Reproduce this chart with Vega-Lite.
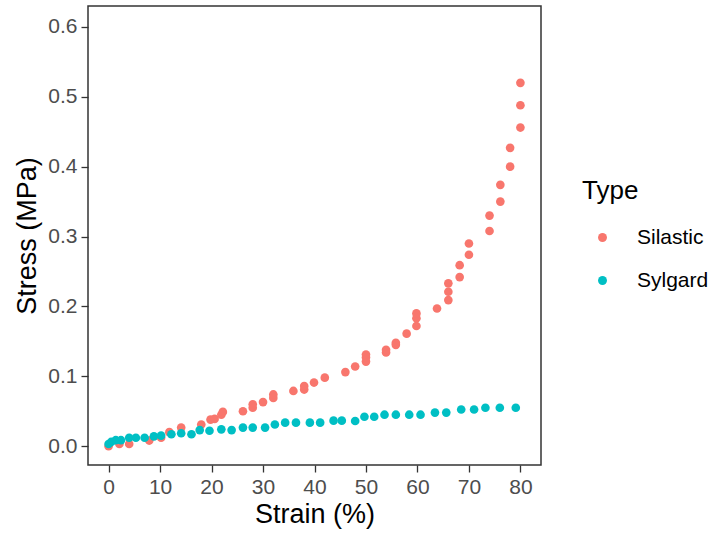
{
  "$schema": "https://vega.github.io/schema/vega-lite/v6.json",
  "width": 453,
  "height": 459,
  "autosize": {"type": "none"},
  "padding": {"left": 88, "top": 6, "right": 175, "bottom": 74},
  "background": "white",
  "config": {
    "font": "Liberation Sans",
    "view": {"stroke": "#333333", "strokeWidth": 1.5},
    "axis": {"grid": false, "domain": false, "tickColor": "#333333", "tickWidth": 1.3, "tickSize": 7,
      "labelFont": "Liberation Sans", "labelFontSize": 21, "labelColor": "#4D4D4D", "labelPadding": 4,
      "titleFont": "Liberation Sans", "titleFontSize": 27, "titleFontWeight": "normal", "titleColor": "#000000"}
  },
  "data": {"values": [
    {"Strain": 0, "Stress": 0.0, "Type": "Silastic"},
    {"Strain": 2.1, "Stress": 0.003, "Type": "Silastic"},
    {"Strain": 4.0, "Stress": 0.003, "Type": "Silastic"},
    {"Strain": 7.9, "Stress": 0.008, "Type": "Silastic"},
    {"Strain": 10.2, "Stress": 0.012, "Type": "Silastic"},
    {"Strain": 11.8, "Stress": 0.02, "Type": "Silastic"},
    {"Strain": 14.1, "Stress": 0.0265, "Type": "Silastic"},
    {"Strain": 18.0, "Stress": 0.031, "Type": "Silastic"},
    {"Strain": 19.8, "Stress": 0.038, "Type": "Silastic"},
    {"Strain": 20.6, "Stress": 0.039, "Type": "Silastic"},
    {"Strain": 21.9, "Stress": 0.045, "Type": "Silastic"},
    {"Strain": 22.2, "Stress": 0.049, "Type": "Silastic"},
    {"Strain": 26.1, "Stress": 0.05, "Type": "Silastic"},
    {"Strain": 28.0, "Stress": 0.055, "Type": "Silastic"},
    {"Strain": 28.0, "Stress": 0.06, "Type": "Silastic"},
    {"Strain": 30.0, "Stress": 0.063, "Type": "Silastic"},
    {"Strain": 32.0, "Stress": 0.069, "Type": "Silastic"},
    {"Strain": 32.0, "Stress": 0.074, "Type": "Silastic"},
    {"Strain": 35.9, "Stress": 0.079, "Type": "Silastic"},
    {"Strain": 38.0, "Stress": 0.081, "Type": "Silastic"},
    {"Strain": 38.0, "Stress": 0.086, "Type": "Silastic"},
    {"Strain": 39.9, "Stress": 0.091, "Type": "Silastic"},
    {"Strain": 42.0, "Stress": 0.098, "Type": "Silastic"},
    {"Strain": 46.0, "Stress": 0.106, "Type": "Silastic"},
    {"Strain": 47.9, "Stress": 0.114, "Type": "Silastic"},
    {"Strain": 50.0, "Stress": 0.121, "Type": "Silastic"},
    {"Strain": 50.0, "Stress": 0.127, "Type": "Silastic"},
    {"Strain": 50.0, "Stress": 0.131, "Type": "Silastic"},
    {"Strain": 53.9, "Stress": 0.134, "Type": "Silastic"},
    {"Strain": 53.9, "Stress": 0.138, "Type": "Silastic"},
    {"Strain": 55.8, "Stress": 0.145, "Type": "Silastic"},
    {"Strain": 55.8, "Stress": 0.148, "Type": "Silastic"},
    {"Strain": 57.9, "Stress": 0.161, "Type": "Silastic"},
    {"Strain": 59.8, "Stress": 0.172, "Type": "Silastic"},
    {"Strain": 59.8, "Stress": 0.183, "Type": "Silastic"},
    {"Strain": 59.8, "Stress": 0.19, "Type": "Silastic"},
    {"Strain": 63.8, "Stress": 0.197, "Type": "Silastic"},
    {"Strain": 66.0, "Stress": 0.209, "Type": "Silastic"},
    {"Strain": 66.0, "Stress": 0.221, "Type": "Silastic"},
    {"Strain": 66.0, "Stress": 0.233, "Type": "Silastic"},
    {"Strain": 68.2, "Stress": 0.242, "Type": "Silastic"},
    {"Strain": 68.2, "Stress": 0.259, "Type": "Silastic"},
    {"Strain": 70.0, "Stress": 0.274, "Type": "Silastic"},
    {"Strain": 70.0, "Stress": 0.29, "Type": "Silastic"},
    {"Strain": 74.0, "Stress": 0.308, "Type": "Silastic"},
    {"Strain": 74.0, "Stress": 0.33, "Type": "Silastic"},
    {"Strain": 76.1, "Stress": 0.35, "Type": "Silastic"},
    {"Strain": 76.1, "Stress": 0.374, "Type": "Silastic"},
    {"Strain": 78.0, "Stress": 0.4, "Type": "Silastic"},
    {"Strain": 78.0, "Stress": 0.427, "Type": "Silastic"},
    {"Strain": 80.0, "Stress": 0.456, "Type": "Silastic"},
    {"Strain": 80.0, "Stress": 0.488, "Type": "Silastic"},
    {"Strain": 80.0, "Stress": 0.52, "Type": "Silastic"},
    {"Strain": 0, "Stress": 0.003, "Type": "Sylgard"},
    {"Strain": 0.5, "Stress": 0.006, "Type": "Sylgard"},
    {"Strain": 1.4, "Stress": 0.0085, "Type": "Sylgard"},
    {"Strain": 2.4, "Stress": 0.0085, "Type": "Sylgard"},
    {"Strain": 4.0, "Stress": 0.012, "Type": "Sylgard"},
    {"Strain": 5.3, "Stress": 0.012, "Type": "Sylgard"},
    {"Strain": 7.0, "Stress": 0.012, "Type": "Sylgard"},
    {"Strain": 8.8, "Stress": 0.014, "Type": "Sylgard"},
    {"Strain": 10.2, "Stress": 0.015, "Type": "Sylgard"},
    {"Strain": 12.2, "Stress": 0.017, "Type": "Sylgard"},
    {"Strain": 14.1, "Stress": 0.0185, "Type": "Sylgard"},
    {"Strain": 16.1, "Stress": 0.017, "Type": "Sylgard"},
    {"Strain": 17.7, "Stress": 0.023, "Type": "Sylgard"},
    {"Strain": 19.6, "Stress": 0.022, "Type": "Sylgard"},
    {"Strain": 21.9, "Stress": 0.024, "Type": "Sylgard"},
    {"Strain": 23.9, "Stress": 0.023, "Type": "Sylgard"},
    {"Strain": 26.1, "Stress": 0.0265, "Type": "Sylgard"},
    {"Strain": 28.0, "Stress": 0.0265, "Type": "Sylgard"},
    {"Strain": 30.4, "Stress": 0.0265, "Type": "Sylgard"},
    {"Strain": 32.3, "Stress": 0.031, "Type": "Sylgard"},
    {"Strain": 34.3, "Stress": 0.0336, "Type": "Sylgard"},
    {"Strain": 36.4, "Stress": 0.0336, "Type": "Sylgard"},
    {"Strain": 39.1, "Stress": 0.0336, "Type": "Sylgard"},
    {"Strain": 41.1, "Stress": 0.0336, "Type": "Sylgard"},
    {"Strain": 43.7, "Stress": 0.0365, "Type": "Sylgard"},
    {"Strain": 45.3, "Stress": 0.0365, "Type": "Sylgard"},
    {"Strain": 47.9, "Stress": 0.036, "Type": "Sylgard"},
    {"Strain": 49.7, "Stress": 0.042, "Type": "Sylgard"},
    {"Strain": 51.6, "Stress": 0.042, "Type": "Sylgard"},
    {"Strain": 53.6, "Stress": 0.045, "Type": "Sylgard"},
    {"Strain": 55.8, "Stress": 0.045, "Type": "Sylgard"},
    {"Strain": 58.4, "Stress": 0.045, "Type": "Sylgard"},
    {"Strain": 60.6, "Stress": 0.045, "Type": "Sylgard"},
    {"Strain": 63.4, "Stress": 0.048, "Type": "Sylgard"},
    {"Strain": 65.6, "Stress": 0.048, "Type": "Sylgard"},
    {"Strain": 68.5, "Stress": 0.0525, "Type": "Sylgard"},
    {"Strain": 71.0, "Stress": 0.0525, "Type": "Sylgard"},
    {"Strain": 73.2, "Stress": 0.055, "Type": "Sylgard"},
    {"Strain": 76.0, "Stress": 0.055, "Type": "Sylgard"},
    {"Strain": 79.1, "Stress": 0.055, "Type": "Sylgard"}
  ]},
  "mark": {"type": "circle", "size": 75, "opacity": 1},
  "encoding": {
    "x": {"field": "Strain", "type": "quantitative", "title": "Strain (%)",
      "scale": {"domain": [-4, 84], "nice": false, "zero": false},
      "axis": {"values": [0, 10, 20, 30, 40, 50, 60, 70, 80], "titlePadding": 4}},
    "y": {"field": "Stress", "type": "quantitative", "title": "Stress (MPa)",
      "scale": {"domain": [-0.027, 0.63], "nice": false, "zero": false},
      "axis": {"values": [0, 0.1, 0.2, 0.3, 0.4, 0.5, 0.6], "format": ".1f", "titlePadding": 6}},
    "color": {"field": "Type", "type": "nominal",
      "scale": {"domain": ["Silastic", "Sylgard"], "range": ["#F8766D", "#00BFC4"]},
      "legend": {"orient": "none", "legendX": 494, "legendY": 172, "title": "Type",
        "titleFontSize": 26, "titleFontWeight": "normal", "titleColor": "#000000", "titleFont": "Liberation Sans", "titlePadding": 23,
        "labelFontSize": 21, "labelColor": "#000000", "labelFont": "Liberation Sans", "labelOffset": 24,
        "symbolType": "circle", "symbolSize": 80, "symbolOpacity": 1, "symbolStrokeWidth": 0, "symbolOffset": 10, "rowPadding": 21}}
  }
}
